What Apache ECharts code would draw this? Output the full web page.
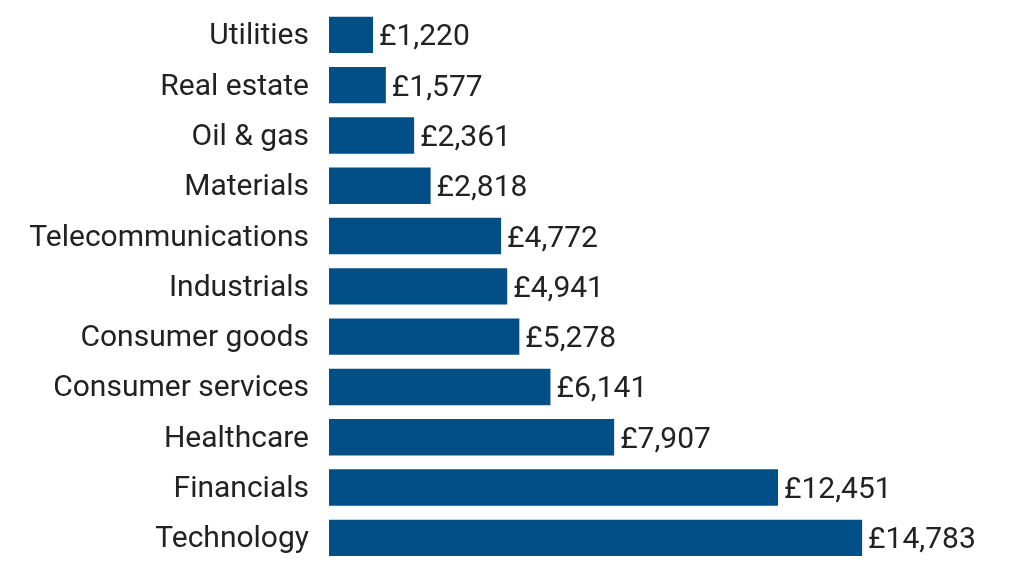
<!DOCTYPE html>
<html>
<head>
<meta charset="utf-8">
<script src="https://cdn.jsdelivr.net/npm/echarts@6/dist/echarts.min.js"></script>
<style>
html,body{margin:0;padding:0;background:#fff;}
#chart{width:1017px;height:563px;}
</style>
</head>
<body>
<div id="chart"></div>
<script>
const categories = ["Utilities","Real estate","Oil & gas","Materials","Telecommunications","Industrials","Consumer goods","Consumer services","Healthcare","Financials","Technology"];
const values = [1220,1577,2361,2818,4772,4941,5278,6141,7907,12451,14783];

const chart = echarts.init(document.getElementById('chart'));
chart.setOption({
  animation: false,
  backgroundColor: '#ffffff',
  grid: { left: 329, top: 9.7, width: 577, height: 557, containLabel: false },
  xAxis: { type: 'value', min: 0, max: 16000, show: false },
  yAxis: {
    type: 'category', data: categories, inverse: true,
    axisLine: { show: false }, axisTick: { show: false },
    axisLabel: { color: '#222222', fontFamily: 'Roboto', fontSize: 30, margin: 20,
      verticalAlign: 'top', lineHeight: 4 }
  },
  series: [{
    type: 'bar', data: values, barCategoryGap: '27.7%',
    itemStyle: { color: '#024f88' },
    label: {
      show: true, position: 'right', distance: 6, offset: [0, 3],
      color: '#222222', fontFamily: 'Roboto', fontSize: 30,
      formatter: p => '£' + p.value.toLocaleString('en-GB')
    }
  }]
});
</script>
</body>
</html>
